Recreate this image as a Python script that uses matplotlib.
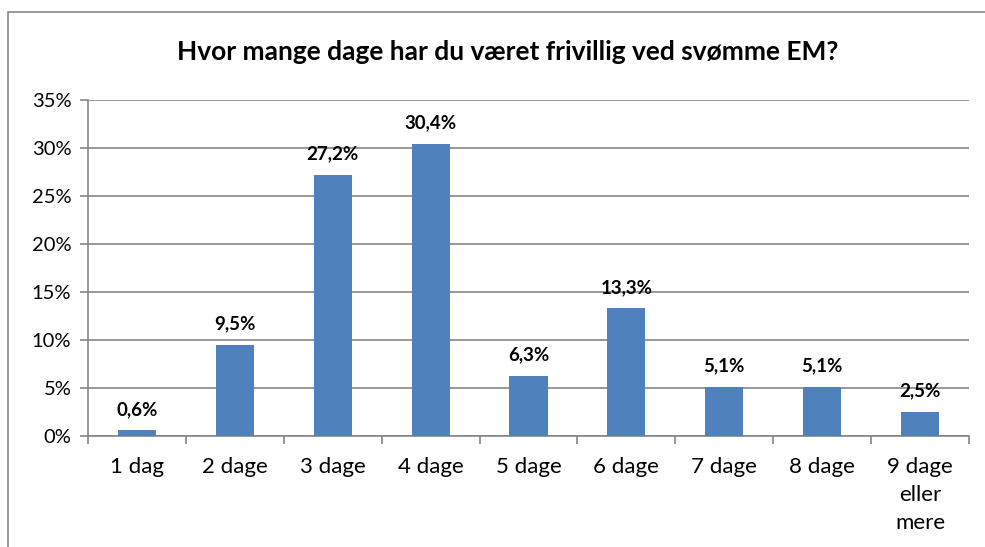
import matplotlib.pyplot as plt
from matplotlib.patches import Rectangle
from matplotlib.ticker import FixedLocator, PercentFormatter

# data
categories = ['1 dag', '2 dage', '3 dage', '4 dage', '5 dage', '6 dage',
              '7 dage', '8 dage', '9 dage\neller\nmere']
values = [0.6, 9.5, 27.2, 30.4, 6.3, 13.3, 5.1, 5.1, 2.5]
labels = ['0,6%', '9,5%', '27,2%', '30,4%', '6,3%', '13,3%', '5,1%', '5,1%', '2,5%']
yticks = [0, 5, 10, 15, 20, 25, 30, 35]

plt.rcParams['font.family'] = ['Lato', 'DejaVu Sans']

fig = plt.figure(figsize=(9.85, 5.47), dpi=100)
W, H = 985, 547

# outer chart frame (cut off on right and bottom like the screenshot)
fig.patches.append(Rectangle((8 / W, -0.1), 1.1, (H - 12) / H + 0.1,
                             transform=fig.transFigure, fill=False,
                             edgecolor='#868686', linewidth=1.2))

ax = fig.add_axes([88 / W, (H - 436) / H, (969 - 88) / W, (436 - 100) / H])

x = range(len(categories))
ax.bar(x, values, width=0.39, color='#4f81bd', zorder=3)
for xi, v, lab in zip(x, values, labels):
    ax.text(xi, v + 1.3, lab, ha='center', va='bottom', fontsize=13.5,
            fontweight='bold', color='black', zorder=4)

ax.set_xlim(-0.5, len(categories) - 0.5)
ax.set_ylim(0, 35)
ax.yaxis.set_major_locator(FixedLocator(yticks))
ax.yaxis.set_major_formatter(PercentFormatter(decimals=0))
ax.grid(axis='y', color='#868686', linewidth=1.2, zorder=0)

ax.set_xticks(list(x))
ax.set_xticklabels(categories, fontsize=16, linespacing=1.5)
ax.xaxis.set_minor_locator(FixedLocator([i - 0.5 for i in range(len(categories) + 1)]))
ax.tick_params(axis='x', which='major', length=0, pad=15)
ax.tick_params(axis='x', which='minor', length=6, color='#868686', width=1.2)
ax.tick_params(axis='y', length=6, color='#868686', width=1.2, labelsize=14.5, pad=6)

for s in ['top', 'right']:
    ax.spines[s].set_visible(False)
for s in ['left', 'bottom']:
    ax.spines[s].set_color('#868686')
    ax.spines[s].set_linewidth(1.2)

fig.text(0.515, (H - 52) / H, 'Hvor mange dage har du været frivillig ved svømme EM?',
         ha='center', va='center', fontsize=19, fontweight='bold')

fig.savefig('out.png', dpi=100)
